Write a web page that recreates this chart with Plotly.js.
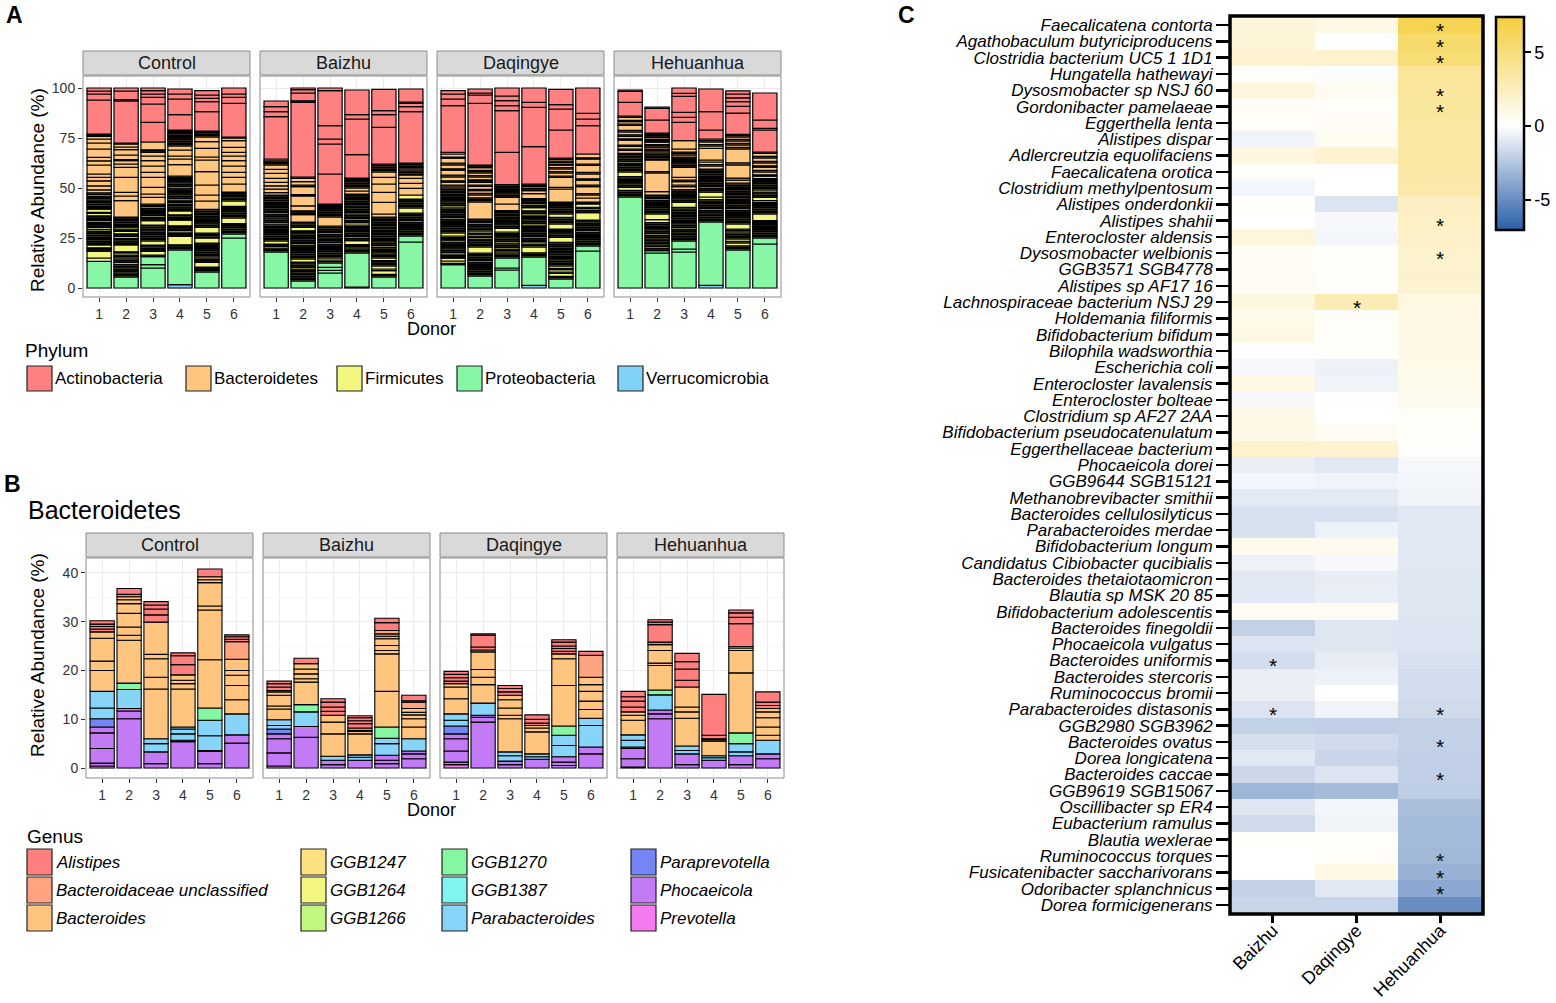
<!DOCTYPE html>
<html><head><meta charset="utf-8">
<script src="https://cdn.plot.ly/plotly-3.0.1.min.js"></script>
<style>html,body{margin:0;padding:0;background:#fff;}#chart{width:1556px;height:1003px;}</style>
</head><body><div id="chart"></div>
<script>
// ---------------- DATA ----------------
const donors = ['1','2','3','4','5','6'];
const groupsAB = ['Control','Baizhu','Daqingye','Hehuanhua'];

const phylaCodes  = ['A','B','F','P','V'];
const phylaNames  = ['Actinobacteria','Bacteroidetes','Firmicutes','Proteobacteria','Verrucomicrobia'];
const phylaColors = ['#FF8080','#FFC680','#F4F77F','#87F7A6','#80D3F7'];

const genusCodes  = ['Ali','Buc','Bac','G47','G64','G66','G70','G87','Par','Ppr','Pho','Pre'];
const genusNames  = ['Alistipes','Bacteroidaceae unclassified','Bacteroides','GGB1247','GGB1264','GGB1266','GGB1270','GGB1387','Parabacteroides','Paraprevotella','Phocaeicola','Prevotella'];
const genusColors = ['#FF7F7F','#FFA47F','#FFC57F','#FFE180','#F3F77F','#C0F77F','#85F7A2','#7FF7F0','#86D5F8','#7585F5','#C27AF5','#F57AEF'];

// Panel A: per donor bar, segments from bottom, grouped by phylum code
const ctrlA = [
 [['P',13.3],['F',1.7,3.3,0.7,0.6,0.5,1.5,0.6,0.7,0.6,0.7,0.5,0.6,0.8,0.5,0.7,0.6,0.6,0.8,1.0,0.6,0.5,0.7,0.6,1.0,0.6,0.5,0.7,0.6,1.2,0.5,1.6,0.7,0.6,0.8,0.5,0.7,0.6,0.8,0.7,0.6,0.6,0.8,0.8],['B',1.5,2.0,2.5,1.7,1.7,4.5,2.1,1.7,4.2,3.0,2.0,1.3,0.5,0.6],['A',17.1,3.0,1.5,1.5]],
 [['P',5.5],['F',0.7,0.6,0.8,0.7,0.6,0.7,0.8,0.7,0.7,1.0,0.7,0.6,1.0,0.7,0.6,1.2,0.5,3.5,0.6,0.7,0.5,0.8,0.6,1.0,0.6,0.7,1.2,0.5,0.7,0.9,0.7,0.6,0.8,0.5,0.7,0.6,0.7,0.5],['B',8.2,2.3,1.8,7.5,5.0,1.7,1.7,0.5,2.3,2.7,1.3,1.5,0.5],['A',21.0,0.7,4.3,1.5]],
 [['P',10,1.7,4.0],['F',0.7,1.9,0.6,0.7,0.5,0.8,0.6,2.0,0.7,0.6,0.8,0.5,0.7,0.6,0.7,0.8,0.6,0.7,0.8,0.5,2.2,0.7,0.6,0.5,0.8,0.6,0.7,0.5,0.6,0.7,0.6,0.8,0.5,0.7],['B',3.3,1.7,3.3,5.0,2.5,3.2,2.7,2.3,1.8,0.7,0.6,3.9],['A',9.8,9.2,3.3,1.7,1.7,1.3]],
 [['V',1.7],['P',17.3],['F',0.7,0.6,0.7,0.6,4.2,0.6,0.7,0.5,1.1,0.6,0.7,0.5,0.6,2.8,0.7,0.6,0.8,0.6,2.0,0.6,0.7,0.5,0.8,0.6,0.9,0.6,0.7,0.8,0.7,0.6,0.8,0.5,0.7,0.6,0.7,0.5,0.9,0.7,0.6,0.8,0.5,0.7,0.6,0.6,0.7],['B',5.7,2.8,1.5,3.0,2.0,0.7,0.6,0.8,0.5,0.7,0.6,0.7,0.6,0.8,0.5,0.5,0.6,0.4],['A',7.7,7.8,2.5,2.5]],
 [['P',8.0],['F',0.7,0.6,0.6,0.6,2.3,0.6,0.7,0.5,0.9,0.7,0.6,0.8,0.5,0.7,0.6,0.7,0.5,0.6,0.7,0.6,2.5,0.6,0.7,0.5,0.6,2.9,0.7,0.6,0.8,0.5,0.7,0.6,0.7,0.5,0.6,0.7,0.6,0.8,0.5,0.7],['B',4.2,3.0,5.0,6.7,5.8,1.5,4.3,3.4,2.3,0.7,0.6,0.8,0.5,0.4],['A',9.7,5.0,1.6,1.7,2.2]],
 [['P',25,2.0],['F',0.7,0.6,0.8,0.5,0.7,0.6,0.7,0.6,2.8,0.7,0.6,0.8,0.5,0.7,0.6,0.7,0.6,0.6,2.8,0.7,0.6,0.8,0.5,0.7,0.6,0.5],['B',4.0,3.3,2.5,3.2,2.7,2.3,1.8,2.5,3.4,1.3,0.5],['A',16.8,3.0,1.7,3.0]]
];
const baizhuA = [
 [['P',18.0],['F',0.7,0.6,0.7,0.8,0.6,0.6,1.5,0.7,0.6,0.8,0.5,0.7,0.6,0.7,0.5,0.6,0.7,0.6,0.6,0.8,0.9,0.7,0.6,0.8,0.8,0.7,0.6,0.8,0.5,0.7,0.6,0.7,0.5,0.6,0.7,0.6,0.8,0.5,0.7,0.6,0.7,0.5],['B',1.2,1.7,1.7,1.7,2.0,2.5,2.0,2.2,0.7,0.6,0.8,0.9],['A',21.2,2.5,2.5,2.8]],
 [['P',3.5],['F',0.7,0.6,0.8,0.5,0.7,0.6,0.8,0.6,0.7,0.8,0.7,0.6,0.8,0.6,1.5,0.7,0.6,0.8,0.5,0.7,0.6,0.7,0.5,0.6,0.7,0.6,0.8,0.5,0.7,0.6,0.7,0.5,0.6,0.7,0.8,0.6,0.6,1.7,0.7,0.6,0.8,0.6],['B',3.7,0.6,0.7,0.6,2.5,5.0,0.6,4.0,0.7,1.8,1.6,0.7],['A',37.3,0.8,3.9,1.7,0.8]],
 [['P',7.5,1.3,1.5,2.2],['F',0.7,0.8,1.0,0.7,0.6,0.8,0.5,0.7,0.6,0.7,0.5,0.6,0.7,0.6,0.8,0.8,0.6,0.7,0.8,0.7,0.6,0.8,0.5,0.7,0.6,0.7,0.7],['B',4.5,0.7,0.6,0.8,0.5,0.7,0.6,0.7,0.6,0.3,0.5,0.5],['A',15.0,15.0,2.5,6.7,17.5,1.3]],
 [['P',0.4,17.1],['F',0.7,0.6,0.8,0.9,0.6,0.6,2.0,0.7,0.6,0.8,0.5,0.7,0.6,0.7,0.5,0.6,0.7,0.6,0.8,1.2,0.7,0.6,0.8,0.5,0.7,0.6,1.0,0.6,0.7,0.7,0.7,0.6,0.8,0.5,0.7,0.6,0.7,0.5,0.6,0.7,0.5,0.5],['B',1.5,1.5,0.7,0.6,0.8,0.5,0.7,0.6,0.7,0.4],['A',11.7,17.8,2.2,12.3]],
 [['P',5.5],['F',0.7,0.6,1.9,0.8,1.5,0.7,0.6,0.8,0.6,1.3,0.7,0.6,0.8,0.8,0.7,0.6,0.8,0.5,0.8,0.7,0.6,0.8,0.7,0.6,0.8,0.5,0.7,0.6,0.7,0.5,0.6,0.7,0.6,0.8,0.5,0.7,0.6,0.7,0.6,0.7],['B',0.4,1.6,5.8,5.0,4.2,3.3,2.7,0.7,0.6,0.8,0.5,0.7,0.7],['A',18.3,6.4,2.0,10.6]],
 [['P',23,3],['F',0.7,0.6,0.8,0.5,0.7,0.6,0.7,0.5,0.6,0.7,0.6,0.8,0.5,0.7,0.6,0.7,0.5,0.7,2.5,0.7,0.6,0.8,0.5,0.7,0.6,0.6,2.0],['B',3.3,2.5,2.5,1.7,0.6,0.7,0.8,0.9,0.7,0.6,0.8,0.5,0.4],['A',25.7,2.5,1.6,0.7,6.5]]
];
const daqingyeA = [
 [['P',11.7],['F',0.6,1.2,1.4,0.7,0.6,0.8,0.8,0.7,0.6,0.8,0.5,0.7,0.6,0.7,0.5,1.0,0.7,0.6,0.8,1.5,0.7,0.6,0.8,0.5,0.7,0.6,0.7,0.5,0.6,0.7,0.6,0.8,0.5,0.7,0.6,0.7,0.5,0.6,0.7,0.9,0.8,0.7,0.6,0.8,0.5,0.7,0.6,0.7,0.5,0.6,0.7,0.6,0.8,0.5],['B',1.0,0.8,1.5,0.7,2.0,0.8,2.5,0.7,2.0,0.8,2.5,0.6,1.5,0.8],['A',23.4,3.3,2.5,1.7]],
 [['P',6.0],['F',0.7,0.6,0.8,0.5,0.7,0.6,0.7,0.5,0.6,0.7,0.6,0.8,0.5,0.7,0.6,0.7,0.5,0.7,3.0,0.7,0.6,0.8,0.5,0.7,0.6,0.9,0.6,1.0,0.6,1.1,0.7,0.6,0.8,0.7,0.6,0.8,0.5,0.7,0.5],['B',8.5,0.7,0.6,0.8,1.5,0.7,1.4,0.6,1.5,0.7,1.3,0.6,0.7,1.4,0.7,1.3,0.7,0.6,1.4,0.7,0.6],['A',30.8,4.2,1.0,2.0]],
 [['P',9,1,5],['F',0.7,0.6,0.8,1.0,0.7,0.6,0.9,0.7,0.6,0.8,0.9,0.7,0.6,0.8,0.5,0.7,0.6,0.8,1.8,0.7,0.6,0.8,0.5,0.7,0.6,0.7,0.5,0.6,0.7,0.6,0.8,0.5,0.6],['B',3.3,3.3,0.7,0.6,0.8,0.5,0.7,0.6,0.7,0.5,0.6,0.7],['A',16.1,20.9,2.5,2.5,2.3,4.0]],
 [['V',1.3],['P',14.2],['F',0.7,0.6,0.8,3.0,0.7,0.6,1.2,0.6,0.7,0.6,0.8,0.5,0.7,0.6,0.7,0.5,0.6,0.7,0.6,0.8,0.8,0.7,0.6,0.8,0.7,0.6,0.8,0.8,0.7,0.6,1.6,0.7,0.6,0.8,0.5,0.7,0.6,0.6],['B',2.5,1.5,0.7,0.6,0.8,0.5,0.7],['A',18.7,19.6,2.5,7.2]],
 [['P',4.5],['F',0.7,0.6,1.5,0.7,1.2,0.6,1.2,0.7,0.6,0.8,0.5,0.8,0.7,0.6,0.8,0.5,0.7,0.6,0.7,0.5,0.6,0.7,0.7,0.6,0.7,2.5,0.7,0.6,0.8,0.5,0.7,0.6,0.3,2.5,0.7,0.6,0.8,0.5,0.7,1.7,0.7,0.6,0.8,0.5,0.7,0.6,0.7,0.5,0.6,0.3],['B',6.5,0.8,5.0,0.7,1.5,0.7,1.3,0.7,1.2,0.6,0.8,0.7,0.8,0.7],['A',14.0,10.5,2.2,7.6]],
 [['P',18.5,2.5],['F',0.7,0.6,0.8,0.5,0.7,0.6,0.7,0.5,0.6,0.7,0.6,0.8,0.5,0.7,0.6,0.7,0.6,0.7,0.8,0.6,3.7,0.7,0.6,0.8,0.5,1.7,0.5,0.5],['B',2.0,1.5,0.7,3.5,0.7,2.5,0.7,2.5,0.7,3.5,0.7,2.5,0.6,1.9],['A',14.2,3.3,2.8,12.7]]
];
const hehuanhuaA = [
 [['P',45.5],['F',0.7,0.6,0.8,0.5,0.7,1.5,0.7,0.6,0.8,0.5,0.7,0.6,0.7,0.8,2.3,0.7,0.6,0.8,0.5,0.7,0.6,0.6,0.8,0.7,0.6,0.8,0.6],['B',0.7,0.6,1.5,0.7,1.3,0.6,2.5,0.7,1.2,0.8,1.5,0.7,2.5,0.7,1.2,0.6,1.5,0.7],['A',6.8,5.5,0.7]],
 [['P',17.5,1.2],['F',0.7,0.6,0.8,0.8,0.7,0.6,0.8,0.7,0.8,0.7,0.6,0.8,0.7,0.6,0.8,0.7,0.6,0.8,0.5,0.7,1.5,2.8,0.7,0.6,0.8,0.5,0.7,0.6,0.7,0.5,0.6,0.7,0.6,0.8,0.5,0.7,0.5],['B',1.7,9.3,0.7,5.8,0.5,0.7,0.6,0.8,0.5,1.0,0.7,0.6,1.0,0.8,0.5,1.2,0.7,0.6,1.0,0.7,0.6,0.5,0.5],['A',6.5,5.8,0.7]],
 [['P',18,1.5,4.0],['F',0.7,0.6,0.8,0.5,0.7,0.6,0.8,0.7,0.6,0.8,0.7,0.6,0.8,0.7,0.6,0.8,0.5,0.7,0.6,0.7,0.5,0.6,0.7,0.8,0.7,2.5],['B',0.7,0.6,0.8,0.5,0.7,0.6,0.7,0.5,0.6,0.7,1.5,0.8,1.7,0.7,1.4,5.0,0.7,0.6,0.8,0.5,0.7,0.6,0.7,0.5,1.2,0.7,0.6,1.6,4.2],['A',9.1,2.5,2.5,8.0,1.5,2.7]],
 [['V',1.3],['P',31.7],['F',0.7,0.6,0.8,0.5,0.7,0.6,0.8,0.7,0.6,0.8,0.5,0.7,0.6,0.7,0.5,0.6,0.8,1.3,2.4,0.8],['B',0.7,0.6,0.8,0.5,0.7,0.6,0.7,0.5,0.6,0.7,0.6,0.8,0.5,0.7,0.6,0.7,0.5,1.5,0.7,1.3,1.0,5.8,1.2,0.7,1.3,0.7,0.8],['A',4.5,9.2,11.3]],
 [['P',19.0],['F',0.7,0.6,0.8,1.5,0.7,1.2,0.7,0.6,0.8,0.5,1.0,0.7,0.7,2.5,0.7,0.6,0.8,0.5,0.7,0.6,0.7,0.5,0.6,0.7,0.6,0.8,0.5,0.7,0.6,0.7,0.5,0.6,0.6,0.6],['B',0.7,0.6,0.8,0.5,0.7,0.6,0.7,0.5,0.6,0.7,0.6,0.8,1.5,1.0,6.7,1.0,7.0,0.7,1.3,0.7,1.3,0.7,1.2,0.7,0.6],['A',10.6,3.4,2.4,1.9,1.9,1.6]],
 [['P',22,3],['F',0.7,0.6,0.8,0.5,0.7,0.6,0.7,0.5,0.6,0.7,0.6,0.5,0.6,0.6,3.3,0.7,0.6,0.8,0.5,0.7,0.6,0.7,0.5,0.6,1.0,1.6,0.7,0.6,0.8,0.5,1.1,0.7,0.6,0.8,0.5,0.7,0.6,0.7,0.5,0.6],['B',1.2,0.7,1.5,0.7,1.6,0.7,1.5,0.7,1.8,0.7,1.5,0.7],['A',11.0,0.8,4.2,13.5]]
];

// Panel B: Bacteroidetes genera, segments from bottom
const ctrlB = [
 [['Pre',0.4],['Pho',0.6,3.0,3.2,1.2],['Ppr',1.7],['Par',2.2,3.4],['Bac',4.3,1.9,4.7,1.3],['Ali',0.6,0.5,0.5,0.7]],
 [['Pho',10.1,1.6,0.5],['Par',3.9],['G70',1.3],['Bac',8.8,1.0,1.7,2.8,2.0,0.8,0.6],['Ali',0.5,1.2]],
 [['Pho',0.9,2.4],['Par',1.7,1.0],['Bac',10.2,2.4,3.8,0.9,6.6],['Ali',1.5,1.2,0.8,0.7]],
 [['Pho',5.4,0.3],['Par',1.3,1.0,0.4],['Bac',7.8,1.1,0.7,1.1],['Ali',2.1,1.8,0.6]],
 [['Pho',0.9,2.5,0.2],['Par',3.0,3.2],['G70',2.5],['Bac',9.9,10.2,0.8,4.8,0.6,0.6],['Ali',1.6]],
 [['Pho',5.1,1.7],['Par',4.3],['Bac',2.9,2.9,2.1,1.0,2.3],['Buc',3.6],['Ali',0.5,0.5,0.4]]
];
const baizhuB = [
 [['Pre',0.4],['Pho',2.7,2.9,1.0],['Ppr',1.0],['Par',0.7,1.2],['Bac',2.2,0.6,2.2,0.7],['Ali',0.3,0.7,0.7,0.5]],
 [['Pho',6.3,2.2],['Par',3.0],['G70',1.5],['Bac',4.6,0.7,1.0,1.0,1.1],['Ali',1.1]],
 [['Pho',0.7,0.9],['Par',0.8],['Bac',4.6,2.4,1.4],['Ali',0.8,0.9,1.0,0.7]],
 [['Pho',1.6],['Par',0.6,0.5],['Bac',4.3,0.5,0.2],['Ali',0.5,0.9,0.6,0.6,0.4]],
 [['Pho',0.9,0.7,1.0],['Par',2.4,1.1],['G70',2.3],['Bac',7.3,7.7,0.7,1.0,1.4],['Buc',0.5,0.5,0.7],['Ali',1.6,0.9]],
 [['Pho',1.9,1.0,0.6],['Par',2.5],['Bac',2.4,1.7,0.8,0.5,0.8],['Buc',1.3],['Ali',0.3,1.1]]
];
const daqingyeB = [
 [['Pre',0.7],['Pho',0.5,2.3,2.5,1.0],['Ppr',1.6],['Par',1.2,1.3],['Bac',3.1,2.4,0.7],['Ali',0.5,0.7,0.7,0.6]],
 [['Pho',9.4,1.0,0.4],['Par',2.5],['Bac',3.8,1.5,1.6,3.6,0.4],['Ali',0.6,2.4,0.3]],
 [['Pho',0.7,0.7],['Par',1.1,0.8],['Bac',6.8,0.7,1.5,1.7,0.9],['Ali',0.7,0.7,0.6]],
 [['Pho',1.8],['Par',0.5,0.6],['Bac',4.5,0.8,0.5],['Ali',0.5,0.8,0.9]],
 [['Pho',0.5,0.7,1.1],['Par',2.3,2.1],['G70',1.9],['Bac',8.3,5.5,1.0],['Ali',0.5,0.6,0.5,0.8,0.5]],
 [['Pho',2.9,1.4],['Par',4.4,1.5],['Bac',1.8,1.7,2.0,1.4,1.5],['Buc',4.5],['Ali',0.8]]
];
const hehuanhuaB = [
 [['Pho',0.2,1.7,2.1,0.3],['Par',1.4,1.1],['Bac',3.0,1.0,0.7],['Ali',1.0,1.2,0.9,1.1]],
 [['Pho',10.1,1.0,0.8],['Par',3.1],['G70',1.0],['Bac',5.0,0.5,2.6,1.2],['Ali',0.5,3.6,0.5,0.5]],
 [['Pho',0.7,2.2],['Par',0.7,0.9],['Bac',5.7,1.3,1.0,4.1],['Ali',1.4,2.3,1.5,1.7]],
 [['Pho',1.6],['Par',0.5,0.4],['Bac',3.0,0.3,0.2],['Ali',0.7,8.4]],
 [['Pho',0.7,1.8],['Par',0.8,1.7],['G70',2.2],['Bac',12.3,4.6,0.5,0.3],['Ali',4.7,1.3,0.9,0.6]],
 [['Pho',1.9,1.0],['Par',2.8],['Bac',1.0,1.7,1.9,1.2,0.7],['Ali',0.6,0.7,2.1]]
];

// Panel C: heatmap
const groupsC = ['Baizhu','Daqingye','Hehuanhua'];
const taxaC = ['Faecalicatena contorta','Agathobaculum butyriciproducens','Clostridia bacterium UC5 1 1D1','Hungatella hathewayi','Dysosmobacter sp NSJ 60','Gordonibacter pamelaeae','Eggerthella lenta','Alistipes dispar','Adlercreutzia equolifaciens','Faecalicatena orotica','Clostridium methylpentosum','Alistipes onderdonkii','Alistipes shahii','Enterocloster aldensis','Dysosmobacter welbionis','GGB3571 SGB4778','Alistipes sp AF17 16','Lachnospiraceae bacterium NSJ 29','Holdemania filiformis','Bifidobacterium bifidum','Bilophila wadsworthia','Escherichia coli','Enterocloster lavalensis','Enterocloster bolteae','Clostridium sp AF27 2AA','Bifidobacterium pseudocatenulatum','Eggerthellaceae bacterium','Phocaeicola dorei','GGB9644 SGB15121','Methanobrevibacter smithii','Bacteroides cellulosilyticus','Parabacteroides merdae','Bifidobacterium longum','Candidatus Cibiobacter qucibialis','Bacteroides thetaiotaomicron','Blautia sp MSK 20 85','Bifidobacterium adolescentis','Bacteroides finegoldii','Phocaeicola vulgatus','Bacteroides uniformis','Bacteroides stercoris','Ruminococcus bromii','Parabacteroides distasonis','GGB2980 SGB3962','Bacteroides ovatus','Dorea longicatena','Bacteroides caccae','GGB9619 SGB15067','Oscillibacter sp ER4','Eubacterium ramulus','Blautia wexlerae','Ruminococcus torques','Fusicatenibacter saccharivorans','Odoribacter splanchnicus','Dorea formicigenerans'];
const valBaizhu = [1.5,1.5,1.8,0.3,1.3,0.4,0.2,-0.5,1.2,0.3,-0.4,0.2,0.0,1.4,0.4,0.4,0.5,1.2,0.8,0.9,0.0,-0.3,1.0,-0.3,0.9,0.9,2.0,-0.7,-0.4,-0.9,-1.3,-1.3,0.7,-0.6,-1.0,-1.0,0.5,-2.0,-1.2,-1.5,-0.7,-0.7,-1.2,-2.0,-1.4,-1.0,-1.7,-3.2,-1.1,-1.6,0.2,0.0,0.0,-2.0,-1.8];
const valDaqingye = [1.0,0.0,2.0,-0.1,0.5,0.2,0.4,0.6,1.8,0.0,0.0,-1.2,-0.3,-0.4,0.2,0.1,0.2,2.8,0.3,0.2,0.2,-0.6,-0.5,0.1,0.0,0.5,1.8,-1.0,-0.5,-0.9,-1.3,-0.6,0.7,-0.3,-0.8,-0.7,0.5,-1.1,-1.1,-0.8,-0.6,0.0,-0.5,-2.1,-1.6,-1.8,-1.2,-3.0,-0.4,-0.5,0.2,0.3,1.0,-1.0,-1.8];
const valHehuanhua = [6.6,5.6,5.3,3.9,3.8,3.7,3.6,3.5,3.5,3.4,3.3,2.3,2.2,2.1,2.0,1.9,1.8,1.1,1.0,0.9,0.9,0.8,0.8,0.7,0.3,0.2,0.1,-0.3,-0.4,-0.5,-1.0,-1.0,-1.0,-1.0,-1.1,-1.1,-1.1,-1.2,-1.2,-1.3,-1.5,-1.5,-1.6,-2.0,-2.0,-2.1,-2.1,-2.2,-2.8,-3.0,-3.0,-3.1,-3.4,-3.8,-5.0];
const sigBaizhu = ['Bacteroides uniformis','Parabacteroides distasonis'];
const sigDaqingye = ['Lachnospiraceae bacterium NSJ 29'];
const sigHehuanhua = ['Faecalicatena contorta','Agathobaculum butyriciproducens','Clostridia bacterium UC5 1 1D1','Dysosmobacter sp NSJ 60','Gordonibacter pamelaeae','Alistipes shahii','Dysosmobacter welbionis','Parabacteroides distasonis','Bacteroides ovatus','Bacteroides caccae','Ruminococcus torques','Fusicatenibacter saccharivorans','Odoribacter splanchnicus'];

// ---------------- BUILD ----------------
const W = 1556, H = 1003;
const fx = p => p / W, fy = p => 1 - p / H;
const FONT = 'Liberation Sans, Arial, Helvetica, sans-serif';

const phylumColor = {}; phylaCodes.forEach((c, i) => phylumColor[c] = phylaColors[i]);
const genusColor = {}; genusCodes.forEach((c, i) => genusColor[c] = genusColors[i]);

function stackBars(bars, colorMap, idx, lw) {
  const x = [], y = [], base = [], col = [];
  bars.forEach((bar, i) => {
    let cum = 0;
    bar.forEach(g => {
      for (let k = 1; k < g.length; k++) {
        x.push(donors[i]); y.push(g[k]); base.push(cum); col.push(colorMap[g[0]]); cum += g[k];
      }
    });
  });
  return {type: 'bar', x, y, base, width: 0.9, marker: {color: col, line: {color: '#000', width: lw}},
          xaxis: 'x' + idx, yaxis: 'y' + idx, hoverinfo: 'skip', showlegend: false};
}

const layout = {width: W, height: H, margin: {l: 0, r: 0, t: 0, b: 0}, paper_bgcolor: '#fff', plot_bgcolor: '#fff',
  barmode: 'overlay', showlegend: false, font: {family: FONT, color: '#000'}, shapes: [], annotations: []};

function addFacet(idx, px, py, yrange, dtick, minor, showY, label, stripY) {
  layout['xaxis' + idx] = {domain: [fx(px[0]), fx(px[1])], anchor: 'y' + idx, type: 'category', range: [-0.6, 5.6],
    tickmode: 'array', tickvals: donors, ticktext: donors, ticks: 'outside', ticklen: 4, tickcolor: '#333', tickwidth: 1,
    tickfont: {size: 14, color: '#333'}, showgrid: true, gridcolor: '#ebebeb', gridwidth: 1, zeroline: false, showline: false, fixedrange: true};
  layout['yaxis' + idx] = {domain: [fy(py[1]), fy(py[0])], anchor: 'x' + idx, range: yrange, tickmode: 'linear', tick0: 0, dtick: dtick,
    minor: {dtick: minor, tick0: 0, showgrid: true, gridcolor: '#f4f4f4', gridwidth: 0.6},
    ticks: showY ? 'outside' : '', ticklen: 4, tickcolor: '#333', showticklabels: showY, tickfont: {size: 14, color: '#333'},
    showgrid: true, gridcolor: '#ebebeb', gridwidth: 1, zeroline: false, showline: false, fixedrange: true};
  layout.shapes.push({type: 'rect', xref: 'paper', yref: 'paper', x0: fx(px[0]), x1: fx(px[1]), y0: fy(py[1]), y1: fy(py[0]),
    line: {color: '#8c8c8c', width: 1}, layer: 'above'});
  layout.shapes.push({type: 'rect', xref: 'paper', yref: 'paper', x0: fx(px[0]), x1: fx(px[1]), y0: fy(stripY[1]), y1: fy(stripY[0]),
    fillcolor: '#d9d9d9', line: {color: '#8c8c8c', width: 1}});
  layout.annotations.push({xref: 'paper', yref: 'paper', x: fx((px[0] + px[1]) / 2), y: fy((stripY[0] + stripY[1]) / 2),
    text: label, showarrow: false, font: {size: 18, color: '#1a1a1a'}, xanchor: 'center', yanchor: 'middle'});
}

const panelAx = [[83, 250], [260, 427], [437, 604], [614, 781]];
const panelBx = [[86, 253], [263, 430], [440, 607], [617, 784]];
const dataA = [ctrlA, baizhuA, daqingyeA, hehuanhuaA];
const dataB = [ctrlB, baizhuB, daqingyeB, hehuanhuaB];
const traces = [];

for (let i = 0; i < 4; i++) {
  addFacet(i + 1, panelAx[i], [76, 297], [-4.5, 106], 25, 12.5, i === 0, groupsAB[i], [51, 75]);
  traces.push(stackBars(dataA[i], phylumColor, i + 1, 1.2));
}
for (let i = 0; i < 4; i++) {
  addFacet(i + 5, panelBx[i], [558, 778], [-2.05, 43.05], 10, 5, i === 0, groupsAB[i], [533, 557]);
  traces.push(stackBars(dataB[i], genusColor, i + 5, 1.1));
}

// heatmap
traces.push({type: 'heatmap', x: groupsC, y: taxaC,
  z: taxaC.map((t, i) => [valBaizhu[i], valDaqingye[i], valHehuanhua[i]]),
  zmin: -7.06, zmax: 7.41,
  colorscale: [[0, '#2a5ea8'], [0.488, '#ffffff'], [1, '#f5ce3d']],
  xaxis: 'x9', yaxis: 'y9', hoverinfo: 'skip',
  colorbar: {x: fx(1496), xanchor: 'left', y: fy(17), yanchor: 'top', len: 213, lenmode: 'pixels', thickness: 28, thicknessmode: 'pixels',
    outlinewidth: 2.5, outlinecolor: '#000', ticks: 'outside', ticklen: 6, tickwidth: 2, tickcolor: '#000', tickmode: 'array',
    tickvals: [-5, 0, 5], ticktext: ['-5', '0', '5'], tickfont: {size: 18, color: '#000'}, xpad: 0, ypad: 0, borderwidth: 0}});
layout.xaxis9 = {domain: [fx(1231), fx(1482)], anchor: 'y9', type: 'category', range: [-0.5, 2.5], tickmode: 'array', tickvals: groupsC, ticktext: groupsC,
  tickangle: -45, ticks: 'outside', ticklen: 9, tickwidth: 3, tickcolor: '#000', tickfont: {size: 18, color: '#000'}, ticklabelstandoff: -10,
  showgrid: false, zeroline: false, showline: false, fixedrange: true};
layout.yaxis9 = {domain: [fy(913), fy(17)], anchor: 'x9', type: 'category', range: [taxaC.length - 0.5, -0.5], tickmode: 'array', tickvals: taxaC, ticktext: taxaC,
  ticks: 'outside', ticklen: 14, tickwidth: 2.5, tickcolor: '#000', tickfont: {size: 17, color: '#000', style: 'italic'},
  showgrid: false, zeroline: false, showline: false, fixedrange: true};
layout.shapes.push({type: 'rect', xref: 'paper', yref: 'paper', x0: fx(1230), x1: fx(1483), y0: fy(914), y1: fy(16),
  line: {color: '#000', width: 3.5}, layer: 'above'});
[[sigBaizhu, 'Baizhu'], [sigDaqingye, 'Daqingye'], [sigHehuanhua, 'Hehuanhua']].forEach(([list, g]) => {
  list.forEach(t => layout.annotations.push({xref: 'x9', yref: 'y9', x: g, y: t, text: '*', showarrow: false,
    font: {size: 21, color: '#000'}, yshift: -5}));
});

// titles & labels
const ann = (x, y, text, size, extra) => layout.annotations.push(Object.assign({xref: 'paper', yref: 'paper', x: fx(x), y: fy(y),
  text, showarrow: false, font: {size, color: '#000'}, xanchor: 'center', yanchor: 'middle'}, extra || {}));
ann(14, 15, '<b>A</b>', 23);
ann(12, 484, '<b>B</b>', 23);
ann(906, 15, '<b>C</b>', 23);
ann(37, 190, 'Relative Abundance (%)', 19, {textangle: -90});
ann(37, 655, 'Relative Abundance (%)', 19, {textangle: -90});
ann(431, 329, 'Donor', 18);
ann(431, 810, 'Donor', 18);
ann(26, 510, 'Bacteroidetes', 25, {xanchor: 'left'});
ann(23, 350, 'Phylum', 19, {xanchor: 'left'});
ann(25, 836, 'Genus', 19, {xanchor: 'left'});

// Phylum legend
const phyKeyX = [27, 186, 337, 457, 618];
phylaNames.forEach((n, i) => {
  layout.shapes.push({type: 'rect', xref: 'paper', yref: 'paper', x0: fx(phyKeyX[i]), x1: fx(phyKeyX[i] + 25), y0: fy(391), y1: fy(366),
    fillcolor: phylaColors[i], line: {color: '#222', width: 1.2}});
  ann(phyKeyX[i] + 26, 379, n, 17, {xanchor: 'left'});
});
// Genus legend (column-major, 3 rows)
const genKeyX = [27, 301, 442, 631];
const genRowY = [849, 877, 905];
genusNames.forEach((n, i) => {
  const c = Math.floor(i / 3), r = i % 3;
  layout.shapes.push({type: 'rect', xref: 'paper', yref: 'paper', x0: fx(genKeyX[c]), x1: fx(genKeyX[c] + 25), y0: fy(genRowY[r] + 26), y1: fy(genRowY[r]),
    fillcolor: genusColors[i], line: {color: '#222', width: 1.2}});
  ann(genKeyX[c] + 27, genRowY[r] + 13, n, 17, {xanchor: 'left', font: {size: 17, color: '#000', style: 'italic'}});
});

Plotly.newPlot('chart', traces, layout, {staticPlot: true, displayModeBar: false});
</script></body></html>
